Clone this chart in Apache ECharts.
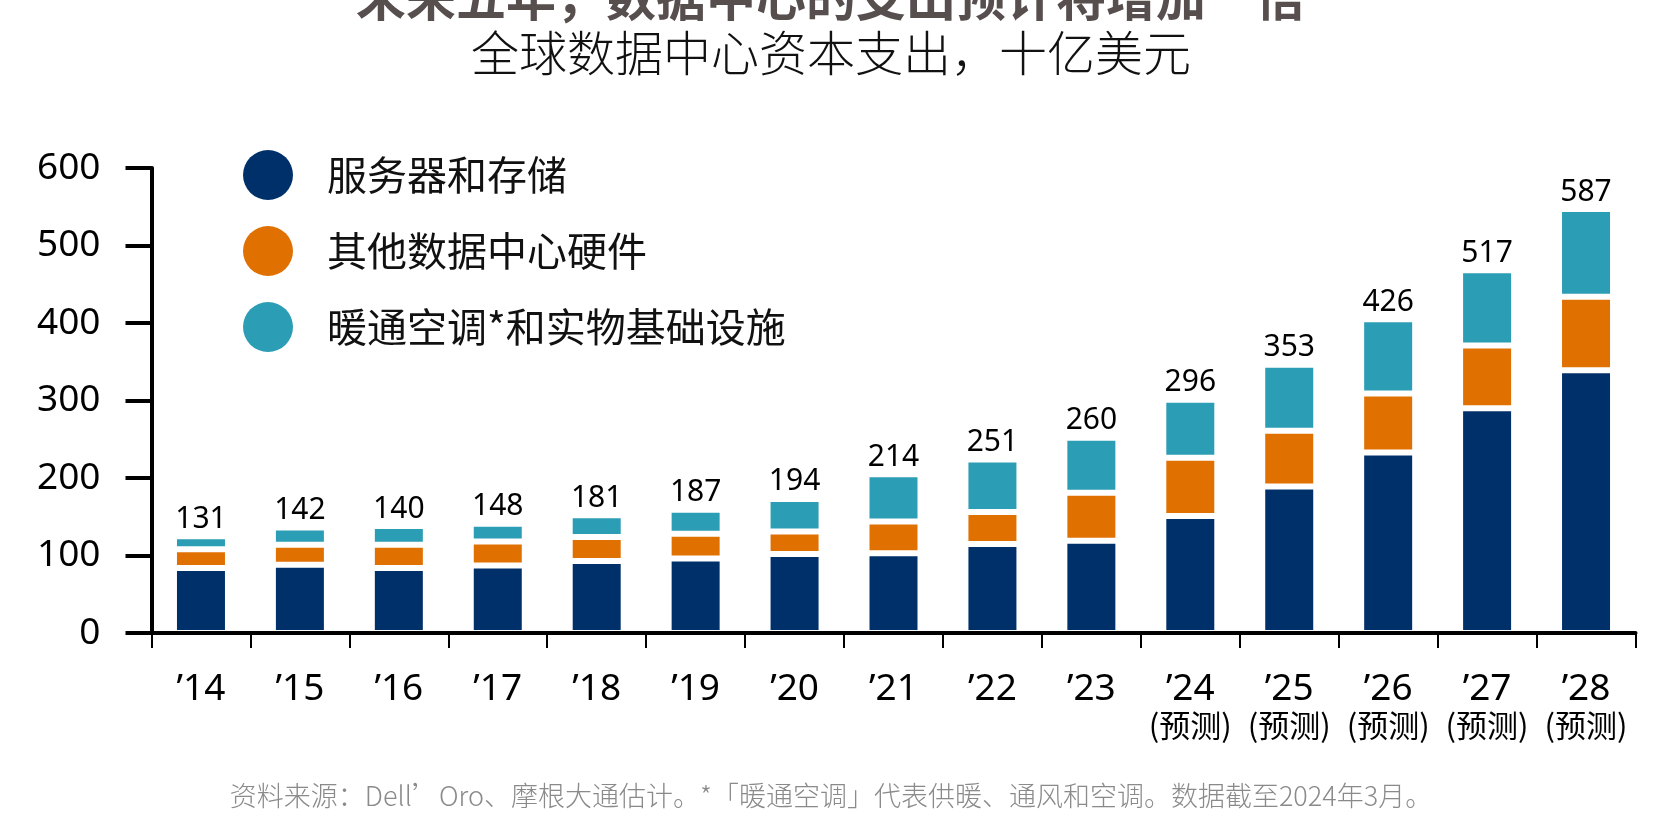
<!DOCTYPE html>
<html>
<head>
<meta charset="utf-8">
<script src="https://cdn.jsdelivr.net/npm/echarts@6/dist/echarts.min.js"></script>
<style>
  html, body { margin: 0; padding: 0; background: #fff; }
  #chart { width: 1662px; height: 839px; }
</style>
</head>
<body>
<div id="chart"></div>
<script>
const years = ['14', '15', '16', '17', '18', '19', '20', '21', '22', '23', '24', '25', '26', '27', '28'];
const forecastFrom = '24';
const servers = [84, 88, 84, 87, 93, 96, 102, 103, 115, 119, 151, 189, 233, 290, 339];
const otherHw = [24, 26, 30, 31, 31, 32, 29, 41, 41, 62, 75, 72, 76, 81, 95];
const hvac = [17, 22, 24, 23, 28, 31, 42, 61, 68, 71, 75, 85, 96, 97, 113];
const totals = [131, 142, 140, 148, 181, 187, 194, 214, 251, 260, 296, 353, 426, 517, 587];
const seriesNames = ['服务器和存储', '其他数据中心硬件', '暖通空调*和实物基础设施'];
const colors = ['#00306a', '#e07000', '#2b9db5'];

const latin = "'Noto Sans', 'Noto Sans CJK SC', sans-serif";
const cjk = "'Noto Sans CJK SC', 'Noto Sans', sans-serif";

const myChart = echarts.init(document.getElementById('chart'));

const barStyle = (c) => ({ color: c, borderColor: '#fff', borderWidth: 3 });

const option = {
  animation: false,
  title: [
    {
      text: '未来五年，数据中心的支出预计将增加一倍',
      left: 'center',
      top: -33,
      textStyle: { fontFamily: cjk, fontSize: 50, fontWeight: 'bold', color: '#574e4e' }
    },
    {
      text: '全球数据中心资本支出，十亿美元',
      left: 'center',
      top: 24,
      textStyle: { fontFamily: cjk, fontSize: 48, fontWeight: 300, color: '#111' }
    },
    {
      text: '资料来源：Dell’Oro、摩根大通估计。*「暖通空调」代表供暖、通风和空调。数据截至2024年3月。',
      left: 'center',
      top: 777,
      textStyle: { fontFamily: cjk, fontSize: 27, fontWeight: 300, color: '#8a8a8a' }
    }
  ],
  legend: {
    orient: 'vertical',
    left: 238,
    top: 145,
    icon: 'circle',
    itemWidth: 50,
    itemHeight: 50,
    itemGap: 26,
    itemStyle: { borderWidth: 0 },
    selectedMode: false,
    textStyle: { fontFamily: cjk, fontSize: 40, color: '#111', padding: [0, 0, 0, 29] },
    data: seriesNames
  },
  grid: { left: 151.5, right: 26.5, top: 168, bottom: 206 },
  xAxis: {
    type: 'category',
    data: years,
    z: 5,
    axisLine: { lineStyle: { color: '#000', width: 4 } },
    axisTick: { show: true, length: 15, lineStyle: { color: '#000', width: 2 } },
    axisLabel: {
      margin: 37,
      interval: 0,
      formatter: (v) => {
        const y = '{y|’' + v + '}';
        return Number(v) >= Number(forecastFrom) ? y + '\n{f|(预测)}' : y;
      },
      rich: {
        y: { fontFamily: latin, fontSize: 37, lineHeight: 38, color: '#000' },
        f: { fontFamily: cjk, fontSize: 31, lineHeight: 34, color: '#000' }
      }
    }
  },
  yAxis: {
    type: 'value',
    min: 0,
    max: 600,
    interval: 100,
    z: 5,
    splitLine: { show: false },
    axisLine: { show: true, lineStyle: { color: '#000', width: 4 } },
    axisTick: { show: true, length: 26, lineStyle: { color: '#000', width: 4 } },
    axisLabel: { margin: 51, fontFamily: latin, fontSize: 37, color: '#000', padding: [12, 0, 0, 0] }
  },
  series: [
    { name: seriesNames[0], type: 'bar', stack: 'capex', barWidth: 54, data: servers, itemStyle: barStyle(colors[0]) },
    { name: seriesNames[1], type: 'bar', stack: 'capex', barWidth: 54, data: otherHw, itemStyle: barStyle(colors[1]) },
    {
      name: seriesNames[2], type: 'bar', stack: 'capex', barWidth: 54, data: hvac, itemStyle: barStyle(colors[2]),
      label: {
        show: true,
        position: 'top',
        distance: 2,
        formatter: (p) => totals[p.dataIndex],
        fontFamily: latin,
        fontSize: 30,
        color: '#000'
      }
    }
  ]
};

myChart.setOption(option);
</script>
</body>
</html>
